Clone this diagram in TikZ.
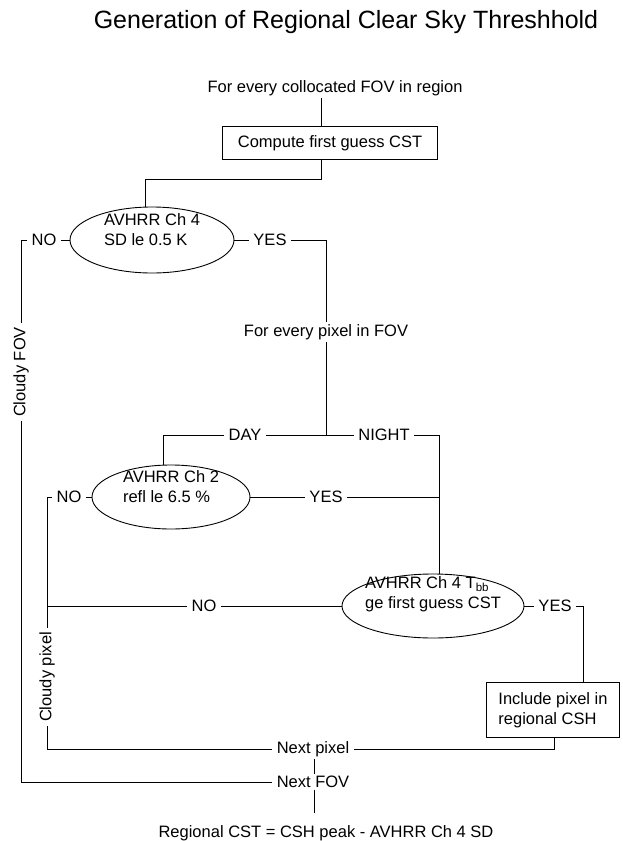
\documentclass[tikz,border=0pt]{standalone}
\usepackage{fontspec}
\setmainfont{Liberation Sans}
\usetikzlibrary{shapes.geometric}
\newcommand{\elltext}[2]{\raisebox{#1}[0pt][0pt]{\makebox[0pt]{\begin{tabular}{@{}l@{}}#2\end{tabular}}}}
\begin{document}
\begin{tikzpicture}[x=1pt,y=-1pt,
  every path/.style={line width=0.9pt},
  txt/.style={font=\fontsize{16.5}{19.5}\selectfont, inner xsep=4pt, inner ysep=2pt},
  boxn/.style={draw, rectangle, line width=0.9pt, font=\fontsize{16.5}{19.5}\selectfont, align=left, inner sep=0pt},
  ell/.style={draw, ellipse, line width=0.9pt, inner sep=0pt, font=\fontsize{16.5}{19.5}\selectfont}
]
\useasboundingbox (0,0) rectangle (623,841);
\fill[white] (0,0) rectangle (623,841);

\node[txt, font=\fontsize{25}{30}\selectfont] (title) at (346,22) {Generation of Regional Clear Sky Threshhold};
\node[txt] (top) at (335,88) {For every collocated FOV in region};
\node[boxn, minimum width=215pt, minimum height=33pt] (b1) at (330,143) {Compute first guess CST};

\node[ell, minimum width=164pt, minimum height=66pt] (e1) at (152,240) {\elltext{4pt}{AVHRR Ch 4\\SD le 0.5 K}};
\node[txt] (no1) at (44,240) {NO};
\node[txt] (yes1) at (270,240) {YES};
\node[txt, rotate=90] (cfov) at (21,372) {Cloudy FOV};

\node[txt] (pix) at (326,332) {For every pixel in FOV};
\node[txt] (day) at (245,435) {DAY};
\node[txt] (night) at (384,435) {NIGHT};

\node[ell, minimum width=158pt, minimum height=64pt] (e2) at (171,497) {\elltext{4pt}{AVHRR Ch 2\\refl le 6.5 \%}};
\node[txt] (no2) at (69,497) {NO};
\node[txt] (yes2) at (326,497) {YES};

\node[ell, minimum width=182pt, minimum height=64pt] (e3) at (433,606) {\elltext{7pt}{AVHRR Ch 4 T\textsubscript{bb}\\ge first guess CST}};
\node[txt] (no3) at (204,606) {NO};
\node[txt] (yes3) at (555,606) {YES};
\node[txt, rotate=90] (cpix) at (47,677) {Cloudy pixel};

\node[boxn, minimum width=133pt, minimum height=55pt] (b2) at (553,710) {Include pixel in\\regional CSH};

\node[txt] (npix) at (313,749) {Next pixel};
\node[txt] (nfov) at (313,782) {Next FOV};
\node[txt] (fin) at (326,833) {Regional CST = CSH peak - AVHRR Ch 4 SD};

% junction coordinates
\coordinate (c1) at (321,179);
\coordinate (c2) at (145,179);
\coordinate (l1) at (21,240);
\coordinate (r1) at (326,240);
\coordinate (dn) at (326,435);
\coordinate (c3) at (163,435);
\coordinate (c4) at (439,435);
\coordinate (l2) at (47,497);
\coordinate (c5) at (554,749);
\coordinate (c6) at (583,606);
\coordinate (cend) at (314,813);

% connectors
\draw (top.south -| c1) -- (b1.north -| c1);
\draw (b1.south -| c1) -- (c1) -- (c2) -- (c2 |- e1.north);
\draw (no1.east) -- (e1.west);
\draw (no1.west) -- (l1) -- (cfov.east);
\draw (cfov.west) -- (l1 |- nfov) -- (nfov.west);
\draw (e1.east) -- (yes1.west);
\draw (yes1.east) -- (r1) -- (pix.north -| r1);
\draw (pix.south -| dn) -- (dn);
\draw (dn) -- (day.east);
\draw (day.west) -- (c3) -- (c3 |- e2.north);
\draw (dn) -- (night.west);
\draw (night.east) -- (c4) -- (c4 |- e3.north);
\draw (no2.east) -- (e2.west);
\draw (no2.west) -- (l2) -- (cpix.east);
\draw (cpix.west) -- (l2 |- npix) -- (npix.west);
\draw (e2.east) -- (yes2.west);
\draw (yes2.east) -- (yes2.east -| c4);
\draw (l2 |- no3) -- (no3.west);
\draw (no3.east) -- (e3.west);
\draw (e3.east) -- (yes3.west);
\draw (yes3.east) -- (c6) -- (c6 |- b2.north);
\draw (b2.south -| c5) -- (c5) -- (npix.east);
\draw (npix.south -| cend) -- (nfov.north -| cend);
\draw (nfov.south -| cend) -- (cend);
\end{tikzpicture}
\end{document}
